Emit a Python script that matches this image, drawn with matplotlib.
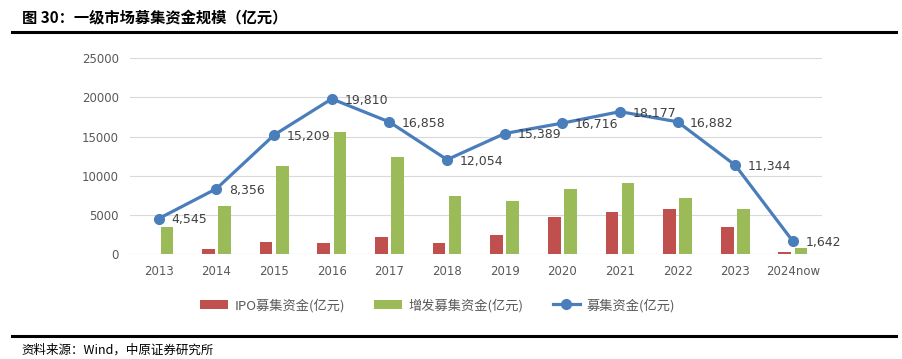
import numpy as np
import matplotlib.pyplot as plt

plt.rcParams['font.family'] = ['Noto Sans CJK SC', 'DejaVu Sans']

years = ['2013', '2014', '2015', '2016', '2017', '2018', '2019', '2020',
         '2021', '2022', '2023', '2024now']
ipo = [0, 610, 1500, 1450, 2250, 1370, 2500, 4720, 5360, 5780, 3490, 220]
seo = [3440, 6120, 11230, 15560, 12370, 7460, 6760, 8290, 9060, 7140, 5700, 850]
total = [4545, 8356, 15209, 19810, 16858, 12054, 15389, 16716, 18177, 16882, 11344, 1642]

red = '#C0504D'
green = '#9BBB59'
blue = '#4A7EBB'
gray = '#595959'

fig = plt.figure(figsize=(9.03, 3.59), dpi=100)
ax = fig.add_axes([0.144, 0.292, 0.766, 0.546])

x = np.arange(len(years))
w = 0.22
b1 = ax.bar(x - 0.14, ipo, w, color=red, label='IPO募集资金(亿元)', zorder=2)
b2 = ax.bar(x + 0.14, seo, w, color=green, label='增发募集资金(亿元)', zorder=2)
l1, = ax.plot(x, total, color=blue, lw=2.3, marker='o', ms=7, label='募集资金(亿元)', zorder=3)

for xi, v in zip(x, total):
    ax.annotate(f'{v:,}', (xi, v), xytext=(9, -1), textcoords='offset points',
                ha='left', va='center', fontsize=9, color='#404040',
                family='DejaVu Sans')

ax.set_xlim(-0.5, len(years) - 0.5)
ax.set_ylim(0, 25000)
ax.set_yticks(range(0, 25001, 5000))
ax.set_xticks(x)
ax.set_xticklabels(years)
ax.yaxis.grid(True, color='#D9D9D9', lw=0.8, zorder=0)
ax.tick_params(length=0, labelsize=8.5, colors=gray, pad=8)
for lab in ax.get_xticklabels() + ax.get_yticklabels():
    lab.set_family('DejaVu Sans')
for s in ax.spines.values():
    s.set_visible(False)
ax.axhline(0, color='#D9D9D9', lw=0.8, zorder=1)

fig.legend([b1, b2, l1], ['IPO募集资金(亿元)', '增发募集资金(亿元)', '募集资金(亿元)'],
           loc='center', bbox_to_anchor=(0.485, 0.15), ncol=3,
           frameon=False, fontsize=9.5, handlelength=2.1, columnspacing=2.2,
           handletextpad=0.5, labelcolor=gray)

fig.text(0.024, 0.952, '图 30：一级市场募集资金规模（亿元）', fontsize=11,
         fontweight='bold', va='center', ha='left')
fig.add_artist(plt.Line2D([0.013, 0.992], [0.91, 0.91], color='black', lw=2.2))
fig.add_artist(plt.Line2D([0.013, 0.992], [0.064, 0.064], color='black', lw=2.2))
fig.text(0.024, 0.025, '资料来源：Wind，中原证券研究所', fontsize=9,
         va='center', ha='left')

fig.savefig('out.png', dpi=100)
